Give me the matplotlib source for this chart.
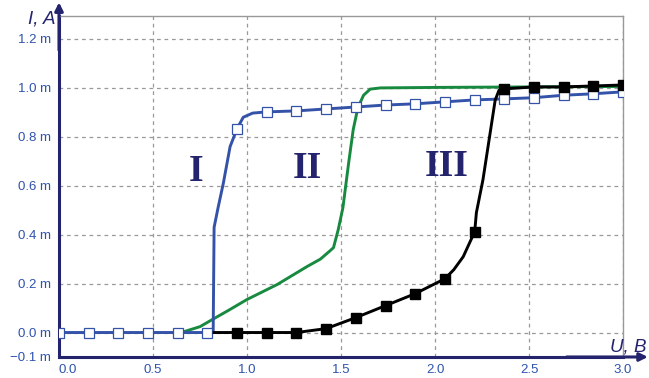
import matplotlib
matplotlib.use('Agg')
import matplotlib.pyplot as plt

# marker positions (U, V) shared by curves I and III
u_mark = [0.0, 0.158, 0.316, 0.474, 0.632, 0.789, 0.947, 1.105, 1.263, 1.421,
          1.579, 1.737, 1.895, 2.053, 2.211, 2.368, 2.526, 2.684, 2.842, 3.0]
# curve I markers (mA)
i1_mark = [0.0, 0.0, 0.0, 0.0, 0.0, 0.0, 0.833, 0.902, 0.906, 0.914,
           0.922, 0.93, 0.935, 0.943, 0.951, 0.955, 0.96, 0.97, 0.976, 0.984]
# curve I line
u1 = [0.0, 0.82, 0.825, 0.846, 0.874, 0.91, 0.947, 0.98, 1.03, 1.105, 1.263,
      1.421, 1.579, 1.737, 1.895, 2.053, 2.211, 2.368, 2.526, 2.684, 2.842, 3.0]
i1 = [0.0, 0.0, 0.43, 0.51, 0.61, 0.76, 0.833, 0.88, 0.897, 0.902, 0.906,
      0.914, 0.922, 0.93, 0.935, 0.943, 0.951, 0.955, 0.96, 0.97, 0.976, 0.984]

# curve II (no markers)
u2 = [0.65, 0.75, 0.82, 0.9, 1.0, 1.16, 1.32, 1.39, 1.44, 1.46, 1.485, 1.51,
      1.54, 1.565, 1.59, 1.62, 1.655, 1.71, 2.0, 2.5, 3.0]
i2 = [0.0, 0.024, 0.055, 0.09, 0.135, 0.196, 0.27, 0.30, 0.333, 0.347, 0.42,
      0.51, 0.69, 0.83, 0.92, 0.97, 0.995, 1.0, 1.002, 1.004, 1.006]

# curve III
u3_mark = u_mark[6:]
i3_mark = [0.0, 0.0, 0.0, 0.016, 0.061, 0.11, 0.159, 0.22, 0.412, 0.996,
           1.004, 1.004, 1.008, 1.012]
u3 = [0.825, 0.947, 1.105, 1.263, 1.421, 1.579, 1.737, 1.895, 2.053, 2.1, 2.15,
      2.211, 2.22, 2.255, 2.29, 2.32, 2.34, 2.368, 2.526, 2.684, 2.842, 3.0]
i3 = [0.0, 0.0, 0.0, 0.0, 0.016, 0.061, 0.11, 0.159, 0.22, 0.257, 0.31,
      0.412, 0.49, 0.625, 0.80, 0.95, 0.99, 0.996, 1.004, 1.004, 1.008, 1.012]

xticks = [0.0, 0.5, 1.0, 1.5, 2.0, 2.5, 3.0]
yticks = [-0.1, 0.0, 0.2, 0.4, 0.6, 0.8, 1.0, 1.2]
ylabels = ['\u22120.1 m', '0.0 m', '0.2 m', '0.4 m', '0.6 m', '0.8 m', '1.0 m', '1.2 m']

navy = '#23236e'
blue = '#3352a8'
green = '#178a40'
ticktxt = '#2f52ad'

plt.rcParams['font.family'] = ['Liberation Sans', 'DejaVu Sans']

fig = plt.figure(figsize=(6.49, 3.78), dpi=100)
ax = fig.add_axes([0.0909, 0.0556, 0.8691, 0.9021])

ax.plot(u2, i2, color=green, lw=2.1, zorder=3)
ax.plot(u1, i1, color=blue, lw=2.1, zorder=4)
ax.plot(u_mark, i1_mark, ls='none', marker='s', ms=7.3, mfc='white',
        mec=blue, mew=0.9, zorder=5)
ax.plot(u3, i3, color='black', lw=2.1, zorder=6)
ax.plot(u3_mark, i3_mark, ls='none', marker='s', ms=7.3, color='black', zorder=7)

ax.set_xlim(0, 3.0)
ax.set_ylim(-0.1, 1.294)
ax.set_xticks(xticks)
ax.set_xticklabels(['%.1f' % v for v in xticks])
ax.set_yticks(yticks)
ax.set_yticklabels(ylabels)
ax.tick_params(length=0, labelsize=9.5, labelcolor=ticktxt)
ax.tick_params(axis='x', pad=5)
ax.tick_params(axis='y', pad=6)
ax.get_xticklabels()[0].set_ha('left')

ax.grid(color='#999999', ls=(0, (3, 3)), lw=0.9)
ax.set_axisbelow(True)

for s in ['top', 'right']:
    ax.spines[s].set_color('#999999')
    ax.spines[s].set_linewidth(1.0)
for s in ['left', 'bottom']:
    ax.spines[s].set_color(navy)
    ax.spines[s].set_linewidth(2.2)

# arrows on the axes
ax.annotate('', xy=(0, 1.04), xytext=(0, 0.9), xycoords='axes fraction',
            arrowprops=dict(arrowstyle='-|>', color=navy, lw=2.2,
                            mutation_scale=12, shrinkA=0, shrinkB=0))
ax.annotate('', xy=(1.044, 0), xytext=(0.9, 0), xycoords='axes fraction',
            arrowprops=dict(arrowstyle='-|>', color=navy, lw=2.2,
                            mutation_scale=12, shrinkA=0, shrinkB=0))

# curve labels
for txt, x, y in [('I', 0.73, 0.66), ('II', 1.32, 0.67), ('III', 2.06, 0.68)]:
    ax.text(x, y, txt, family='Liberation Serif', weight='bold', fontsize=27,
            color=navy, ha='center', va='center', zorder=8)

# axis names
fig.text(56 / 649, 1 - 24 / 378, 'I, A', style='italic', fontsize=13.5,
         color=navy, ha='right', va='baseline')
fig.text(646 / 649, 1 - 352 / 378, 'U, B', style='italic', fontsize=13.5,
         color=navy, ha='right', va='baseline')

fig.savefig('out.png', dpi=100)
